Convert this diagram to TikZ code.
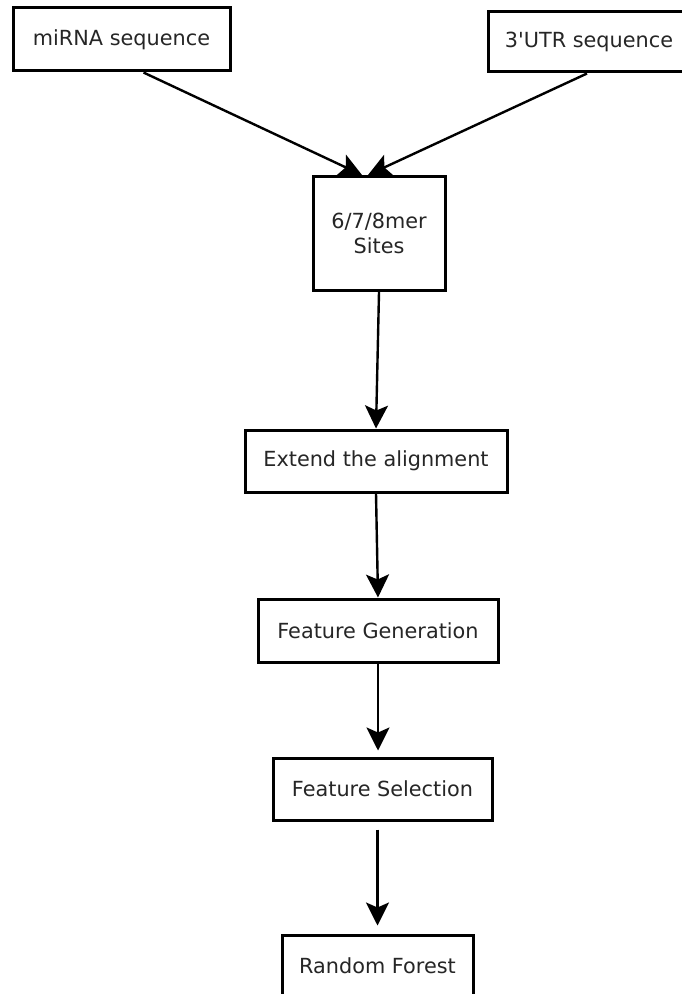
\documentclass[tikz,border=0pt]{standalone}
\usepackage{fontspec}
\setmainfont{DejaVu Sans}
\usepackage{tikz}
\usetikzlibrary{shapes,arrows.meta,positioning}

\tikzset{
    stagebox/.style={draw, line width=1.5pt, fill=white, inner sep=0pt,
        align=center, font=\fontsize{10.4}{12.5}\selectfont, text=black!85},
    flowarrow/.style={line width=1.2pt,
        -{Stealth[length=11.5pt,width=11.5pt,inset=2.5pt]}}
}

\begin{document}
\begin{tikzpicture}[x=0.5pt,y=0.5pt,yscale=-1,xscale=1]
    \useasboundingbox (0,0) rectangle (681,994);

    % Text Node
    \node [stagebox, minimum width=108.5pt, minimum height=31.5pt] (mirna) at (121.5,39.5) {miRNA sequence};
    % Text Node
    \node [stagebox, minimum width=101pt, minimum height=30pt] (utr) at (589,42) {3\textquotesingle UTR sequence};
    % Text Node
    \node [stagebox, minimum width=66pt, minimum height=57pt] (sites) at (379,233.5) {6/7/8mer\\Sites};
    % Text Node
    \node [stagebox, minimum width=131pt, minimum height=31pt] (extend) at (376,461) {Extend the alignment};
    % Text Node
    \node [stagebox, minimum width=120pt, minimum height=31.5pt] (featgen) at (378,630.5) {Feature Generation};
    % Text Node
    \node [stagebox, minimum width=109.5pt, minimum height=31pt] (featsel) at (382.5,789) {Feature Selection};
    % Text Node
    \node [stagebox, minimum width=95.5pt, minimum height=31pt] (forest) at (377.5,966) {Random Forest};

    %Straight Lines
    \draw [flowarrow] ([xshift=11pt]mirna.south) -- ([xshift=-8.5pt]sites.north);
    \draw [flowarrow] ([xshift=-1pt]utr.south) -- ([xshift=-5.5pt]sites.north);
    %Straight Lines
    \draw [flowarrow] (sites.south) -- (extend.north);
    \draw [flowarrow] (extend.south) -- (featgen.north);
    \draw [flowarrow, shorten >=3pt] (featgen.south) -- (featgen.south |- featsel.north);
    \draw [flowarrow, shorten <=4pt, shorten >=4pt] (forest.north |- featsel.south) -- (forest.north);

\end{tikzpicture}
\end{document}
